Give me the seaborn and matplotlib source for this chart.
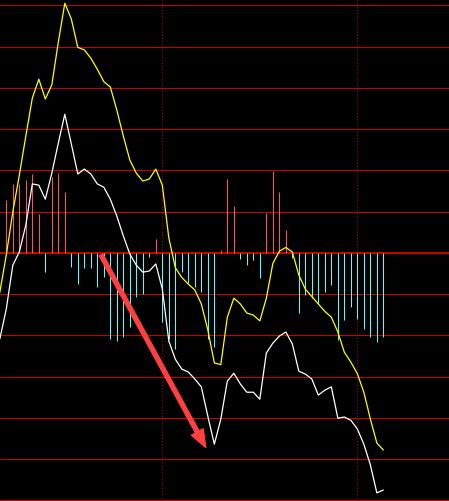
import numpy as np
import pandas as pd
import seaborn as sns
import matplotlib.pyplot as plt

# -----------------------
# Data (one value per bar, first point half hidden)
# -----------------------
idx = list(range(-1, 59))

# slow line (yellow)
dea = [-0.96, -0.05, 0.99, 1.88, 2.83, 3.75, 4.21, 3.73, 4.07, 5.11,
       6.05, 5.67, 4.98, 4.92, 4.72, 4.45, 4.15, 4.02, 3.46, 2.83,
       2.25, 1.93, 1.74, 1.79, 2.03, 1.64, 0.36, -0.36, -0.60, -0.76,
       -0.90, -1.24, -1.87, -2.67, -2.71, -1.56, -1.10, -1.24, -1.46, -1.51,
       -1.65, -1.10, -0.26, 0.04, 0.13, 0.02, -0.54, -0.88, -1.06, -1.24,
       -1.42, -1.56, -1.92, -2.41, -2.65, -2.93, -3.38, -4.03, -4.61, -4.78]

# fast line (white)
dif = [-2.09, -1.36, -0.30, 0.02, 0.67, 1.67, 1.64, 1.30, 1.93, 2.66,
       3.36, 2.64, 1.91, 2.03, 1.91, 1.67, 1.59, 1.30, 0.89, 0.41,
       -0.03, -0.30, -0.47, -0.44, -0.27, -0.88, -2.14, -2.58, -2.82, -2.89,
       -3.06, -3.25, -3.96, -4.64, -4.03, -3.11, -2.92, -3.18, -3.38, -3.38,
       -3.55, -2.43, -2.19, -2.02, -1.92, -2.21, -2.87, -2.94, -3.06, -3.45,
       -3.33, -3.25, -4.01, -3.98, -4.06, -4.27, -4.64, -5.14, -5.82, -5.75]

# histogram bars
bar_x = list(range(0, 59))
hist = [1.28, 1.67, 1.67, 1.76, 1.91, 0.94, -0.46, 1.83, 1.93, 1.47,
        -0.34, -0.76, -0.38, -0.38, -0.82, -0.58, -2.09, -2.15, -2.04, -1.79,
        -1.07, -0.99, -0.09, 0.33, -1.67, -2.09, -2.33, -0.47, -0.72, -0.83,
        -0.96, -2.09, -2.28, 0.07, 1.79, 1.13, -0.15, -0.30, -0.17, -0.61,
        0.96, 1.99, 1.47, 0.56, -0.13, -1.45, -1.02, -1.10, -1.25, -0.94,
        -0.77, -2.11, -1.62, -1.31, -1.61, -1.85, -2.04, -2.16, -2.04]

grid_levels = list(range(-6, 7))
marker_bars = [24, 54]
arrow_from = (14.57, -0.05)
arrow_to = (30.68, -4.72)

df = pd.DataFrame({"idx": idx, "DEA": dea, "DIF": dif})

# -----------------------
# Plot
# -----------------------
sns.set_style("dark", {"axes.facecolor": "black", "figure.facecolor": "black"})

fig = plt.figure(figsize=(4.49, 5.01), dpi=100)
ax = fig.add_axes([0, 0, 1, 1])
ax.set_facecolor("black")

for lv in grid_levels:
    ax.axhline(lv, color="#c80000", lw=1.5 if lv == 0 else 0.75, zorder=1)
for b in marker_bars:
    ax.axvline(b, color="#b00000", lw=0.75, ls=(0, (1, 2)), zorder=1)

bar_colors = ["#ff5555" if h >= 0 else "#55ffff" for h in hist]
ax.vlines(bar_x, 0, hist, colors=bar_colors, lw=0.75, zorder=2)

sns.lineplot(data=df, x="idx", y="DEA", color="#ffff00", lw=0.9, ax=ax, zorder=3)
sns.lineplot(data=df, x="idx", y="DIF", color="white", lw=0.9, ax=ax, zorder=3)

ax.annotate("", xy=arrow_to, xytext=arrow_from,
            arrowprops=dict(arrowstyle="simple,head_length=1.27,head_width=0.97,tail_width=0.29",
                            color="#ff4040", mutation_scale=10, shrinkA=0, shrinkB=0),
            zorder=4)

ax.set_xlim(-0.97, 68.1)
ax.set_ylim(-6.017, 6.129)
ax.set(xticks=[], yticks=[], xlabel="", ylabel="")
for s in ax.spines.values():
    s.set_visible(False)

fig.savefig("out.png", dpi=100, facecolor="black")
